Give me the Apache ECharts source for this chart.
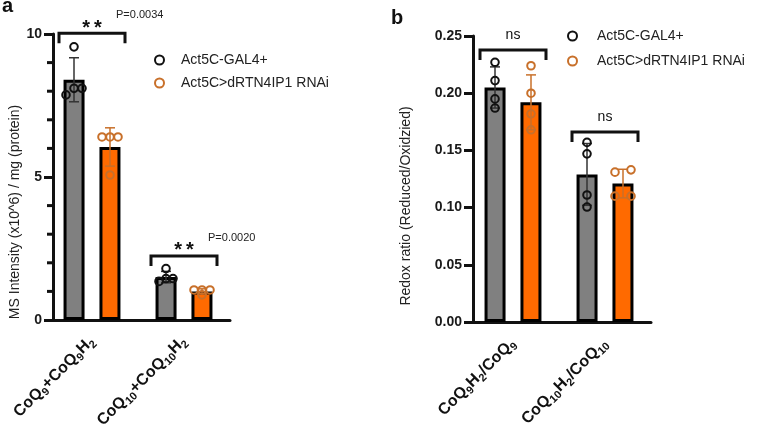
<!DOCTYPE html>
<html><head><meta charset="utf-8">
<script src="https://cdn.jsdelivr.net/npm/echarts@6/dist/echarts.min.js"></script>
<style>html,body{margin:0;padding:0;background:#fff}#c{width:768px;height:427px}</style>
</head><body><div id="c"></div>
<script>
// ---------------- DATA ----------------
const GROUP_NAMES = ['Act5C-GAL4+', 'Act5C>dRTN4IP1 RNAi'];
// Panel a
const CATS_A = ['CoQ9+CoQ9H2', 'CoQ10+CoQ10H2'];
const A_CTRL_MEAN = [8.4, 1.5];
const A_CTRL_SD = [0.77, 0.2];
const A_RNAI_MEAN = [6.05, 1.0];
const A_RNAI_SD = [0.67, 0.09];
const A_CTRL_PTS = [[9.55, 7.87, 8.1, 8.1], [1.8, 1.35, 1.45, 1.45]];
const A_RNAI_PTS = [[6.4, 6.4, 6.4, 5.07], [1.05, 1.05, 1.05, 0.88]];
const A_BRACKET = [10.03, 2.24];
const A_SIG = ['**', '**'];
const A_P = ['P=0.0034', 'P=0.0020'];
const A_MIN = 0, A_MAX = 10, A_STEP = 5;
const A_MINOR_TICKS = [1, 2, 3, 4, 6, 7, 8, 9];
const A_YNAME = 'MS Intensity (x10^6) / mg (protein)';
// Panel b
const CATS_B = ['CoQ9H2/CoQ9', 'CoQ10H2/CoQ10'];
const B_CTRL_MEAN = [0.205, 0.129];
const B_CTRL_SD = [0.018, 0.027];
const B_RNAI_MEAN = [0.192, 0.121];
const B_RNAI_SD = [0.024, 0.0125];
const B_CTRL_PTS = [[0.227, 0.211, 0.195, 0.187], [0.157, 0.147, 0.111, 0.1005]];
const B_RNAI_PTS = [[0.224, 0.2, 0.182, 0.168], [0.131, 0.133, 0.110, 0.110]];
const B_BRACKET = [0.2378, 0.166];
const B_SIG = ['ns', 'ns'];
const B_MIN = 0, B_MAX = 0.25, B_STEP = 0.05;
const B_YNAME = 'Redox ratio (Reduced/Oxidzied)';

// ---------------- STYLE ----------------
const BAR_COLORS = ['#808080', '#ff6a00'];
const PT_COLORS = ['#111111', '#c8702a'];
const ERR_COLORS = ['#333333', '#c8702a'];
const BAR_W = 21, BAR_GAP = '71%', BAR_OFF = 18;
const JIT_A = [[[0, -8, 0, 8], [0, -7, 0, 7]], [[-8, 0, 8, 0], [-8, 0, 8, 0]]];
const JIT_B = [[[0, 0, 0, 0], [0, 0, 0, 0]], [[0, 0, 0, 0], [-8, 8, -8, 8]]];
const FONT = 'Liberation Sans, Arial, sans-serif';
const INK = '#111111';
const A_AXIS_SHIFT = 7, B_AXIS_SHIFT = 6;

function subFmt(v) {
  return v.replace(/(\d+)|([^\d]+)/g, (m, d, t) => d ? '{s|' + d + '}' : '{n|' + t + '}');
}
function errData(m0, s0, m1, s1) {
  const out = [];
  m0.forEach((m, i) => out.push([i, m, s0[i], 0]));
  m1.forEach((m, i) => out.push([i, m, s1[i], 1]));
  return out;
}
function ptData(p0, p1) {
  const out = [];
  p0.forEach((arr, i) => arr.forEach((v, k) => out.push([i, v, 0, k])));
  p1.forEach((arr, i) => arr.forEach((v, k) => out.push([i, v, 1, k])));
  return out;
}
function errRender(params, api) {
  const cat = api.value(0), m = api.value(1), sd = api.value(2), s = api.value(3);
  const top = api.coord([cat, m + sd]), bot = api.coord([cat, m - sd]);
  const x = top[0] + (s === 0 ? -BAR_OFF : BAR_OFF);
  const cw = 5, st = { stroke: ERR_COLORS[s], lineWidth: 1.5 };
  return { type: 'group', children: [
    { type: 'line', shape: { x1: x, y1: top[1], x2: x, y2: bot[1] }, style: st },
    { type: 'line', shape: { x1: x - cw, y1: top[1], x2: x + cw, y2: top[1] }, style: st },
    { type: 'line', shape: { x1: x - cw, y1: bot[1], x2: x + cw, y2: bot[1] }, style: st }
  ]};
}
function ptRender(jit) {
  return function (params, api) {
    const cat = api.value(0), v = api.value(1), s = api.value(2), k = api.value(3);
    const p = api.coord([cat, v]);
    const x = p[0] + (s === 0 ? -BAR_OFF : BAR_OFF) + jit[s][cat][k];
    return { type: 'circle', shape: { cx: x, cy: p[1], r: 3.8 },
      style: { fill: 'none', stroke: PT_COLORS[s], lineWidth: 2 } };
  };
}
function bracketRender(sig, pv, sigFont, sigDy, spaced) {
  return function (params, api) {
    const cat = api.value(0), lvl = api.value(1);
    const p = api.coord([cat, lvl]);
    const half = 33, drop = 10;
    const txt = spaced ? sig[cat].split('').join('\u2009') : sig[cat];
    const ch = [
      { type: 'polyline', shape: { points: [[p[0] - half, p[1] + drop], [p[0] - half, p[1]], [p[0] + half, p[1]], [p[0] + half, p[1] + drop]] },
        style: { fill: 'none', stroke: INK, lineWidth: 3 } },
      { type: 'text', x: p[0], y: p[1] + sigDy,
        style: { text: txt, fill: INK, font: sigFont, align: 'center', verticalAlign: 'middle' } }
    ];
    if (pv) ch.push({ type: 'text', x: p[0] + 24, y: p[1] - 18,
      style: { text: pv[cat], fill: '#222', font: '11px ' + FONT, align: 'left', verticalAlign: 'middle' } });
    return { type: 'group', children: ch };
  };
}
// minor tick marks of panel a, placed on the y scale through api.coord
function minorTickRender(params, api) {
  const v = api.value(1);
  const p = api.coord([0, v]);
  const band = api.size([1, 0])[0];
  const x = p[0] - band / 2 + A_AXIS_SHIFT;
  return { type: 'line', shape: { x1: x - 6, y1: p[1], x2: x, y2: p[1] },
    style: { stroke: INK, lineWidth: 3 } };
}
const xRich = {
  n: { fontSize: 16, fontWeight: 'bold', fontFamily: FONT, color: INK, lineHeight: 21 },
  s: { fontSize: 11, fontWeight: 'bold', fontFamily: FONT, color: INK, lineHeight: 11, verticalAlign: 'bottom' }
};
function xAxisCfg(grid, cats) {
  return {
    gridIndex: grid, type: 'category', data: cats, boundaryGap: true,
    axisLine: { lineStyle: { color: INK, width: 3 } },
    axisTick: { alignWithLabel: true, length: 9, lineStyle: { color: INK, width: 3 } },
    axisLabel: { rotate: 45, margin: 19, formatter: subFmt, rich: xRich },
    splitLine: { show: false }
  };
}
function yAxisCfg(grid, min, max, step, offset, name, nameGap, namePad, nameSize, dec) {
  return {
    gridIndex: grid, type: 'value', min: min, max: max, interval: step, offset: offset,
    name: name, nameLocation: 'middle', nameGap: nameGap,
    nameTextStyle: { fontSize: nameSize, color: '#222', fontFamily: FONT, padding: [0, namePad, 0, 0] },
    axisLine: { show: true, lineStyle: { color: INK, width: 3 } },
    axisTick: { show: true, length: 9, lineStyle: { color: INK, width: 3 } },
    axisLabel: { fontSize: 14, fontWeight: 'bold', color: '#1a1a1a', fontFamily: FONT, margin: 11,
      formatter: v => dec ? v.toFixed(dec) : String(v) },
    splitLine: { show: false }
  };
}
function legendCfg(left, top, gap, pad) {
  return {
    orient: 'vertical', left: left, top: top, itemWidth: 9, itemHeight: 9, itemGap: gap,
    selectedMode: false,
    textStyle: { fontSize: 14, color: '#222', fontFamily: FONT, padding: [0, 0, 0, pad] },
    data: GROUP_NAMES.map((n, i) => ({ name: n, icon: 'circle',
      itemStyle: { color: 'rgba(0,0,0,0)', borderColor: PT_COLORS[i], borderWidth: 2 } }))
  };
}
function barSeries(name, xi, data, ci) {
  return { type: 'bar', name: name, xAxisIndex: xi, yAxisIndex: xi, data: data,
    barWidth: BAR_W, barGap: BAR_GAP, z: 2,
    itemStyle: { color: BAR_COLORS[ci], borderColor: '#000', borderWidth: 3 } };
}

const chart = echarts.init(document.getElementById('c'), null, { renderer: 'canvas' });
chart.setOption({
  animation: false,
  backgroundColor: '#fff',
  textStyle: { fontFamily: FONT },
  grid: [
    { left: 46, top: 34, width: 184, height: 286, outerBoundsMode: 'none', containLabel: false },
    { left: 467, top: 36, width: 184, height: 286, outerBoundsMode: 'none', containLabel: false }
  ],
  xAxis: [xAxisCfg(0, CATS_A), xAxisCfg(1, CATS_B)],
  yAxis: [
    yAxisCfg(0, A_MIN, A_MAX, A_STEP, -A_AXIS_SHIFT, A_YNAME, 29, 70, 14, 0),
    yAxisCfg(1, B_MIN, B_MAX, B_STEP, -B_AXIS_SHIFT, B_YNAME, 60, 54, 14, 2)
  ],
  legend: [legendCfg(149, 48, 9, 12), legendCfg(562, 24, 11, 15)],
  graphic: [
    { type: 'text', left: 2, top: -4, style: { text: 'a', font: 'bold 20px ' + FONT, fill: INK } },
    { type: 'text', left: 391, top: 8, style: { text: 'b', font: 'bold 20px ' + FONT, fill: INK } }
  ],
  series: [
    barSeries(GROUP_NAMES[0], 0, A_CTRL_MEAN, 0),
    barSeries(GROUP_NAMES[1], 0, A_RNAI_MEAN, 1),
    barSeries(GROUP_NAMES[0], 1, B_CTRL_MEAN, 0),
    barSeries(GROUP_NAMES[1], 1, B_RNAI_MEAN, 1),
    { type: 'custom', xAxisIndex: 0, yAxisIndex: 0, z: 3, clip: false, renderItem: errRender,
      encode: { x: 0, y: 1 }, data: errData(A_CTRL_MEAN, A_CTRL_SD, A_RNAI_MEAN, A_RNAI_SD) },
    { type: 'custom', xAxisIndex: 1, yAxisIndex: 1, z: 3, clip: false, renderItem: errRender,
      encode: { x: 0, y: 1 }, data: errData(B_CTRL_MEAN, B_CTRL_SD, B_RNAI_MEAN, B_RNAI_SD) },
    { type: 'custom', xAxisIndex: 0, yAxisIndex: 0, z: 4, clip: false, renderItem: ptRender(JIT_A),
      encode: { x: 0, y: 1 }, data: ptData(A_CTRL_PTS, A_RNAI_PTS) },
    { type: 'custom', xAxisIndex: 1, yAxisIndex: 1, z: 4, clip: false, renderItem: ptRender(JIT_B),
      encode: { x: 0, y: 1 }, data: ptData(B_CTRL_PTS, B_RNAI_PTS) },
    { type: 'custom', xAxisIndex: 0, yAxisIndex: 0, z: 5, clip: false,
      renderItem: bracketRender(A_SIG, A_P, 'bold 20px ' + FONT, -5, true),
      encode: { x: 0, y: 1 }, data: A_BRACKET.map((v, i) => [i, v]) },
    { type: 'custom', xAxisIndex: 1, yAxisIndex: 1, z: 5, clip: false,
      renderItem: bracketRender(B_SIG, null, '14px ' + FONT, -15, false),
      encode: { x: 0, y: 1 }, data: B_BRACKET.map((v, i) => [i, v]) },
    { type: 'custom', xAxisIndex: 0, yAxisIndex: 0, z: 5, clip: false, silent: true,
      renderItem: minorTickRender, encode: { x: 0, y: 1 }, data: A_MINOR_TICKS.map(v => [0, v]) }
  ]
});
</script>
</body></html>
